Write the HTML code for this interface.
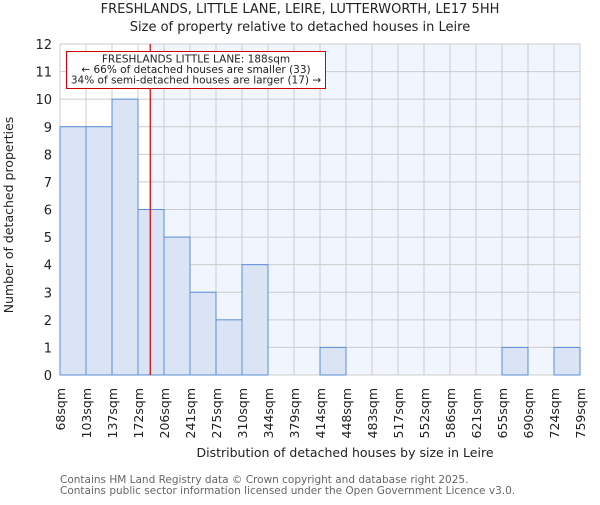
<!DOCTYPE html>
<html><head><meta charset="utf-8"><style>
body{margin:0;background:#fff}
svg text{font-family:"DejaVu Sans","Liberation Sans",sans-serif;fill:#222}
</style></head><body>
<svg id="c" width="600" height="500" xmlns="http://www.w3.org/2000/svg">
<text x="300" y="13" font-size="13" text-anchor="middle">FRESHLANDS, LITTLE LANE, LEIRE, LUTTERWORTH, LE17 5HH</text>
<text x="300" y="31" font-size="13" text-anchor="middle">Size of property relative to detached houses in Leire</text>
<g id="plot"></g>
<text x="345" y="457" font-size="12.5" text-anchor="middle">Distribution of detached houses by size in Leire</text>
<text transform="translate(13,215) rotate(-90)" font-size="12.5" text-anchor="middle">Number of detached properties</text>
<text x="60" y="483" font-size="10.5" style="fill:#666">Contains HM Land Registry data © Crown copyright and database right 2025.</text>
<text x="60" y="494" font-size="10.5" style="fill:#666">Contains public sector information licensed under the Open Government Licence v3.0.</text>
</svg>
<script>
const edges=["68sqm","103sqm","137sqm","172sqm","206sqm","241sqm","275sqm","310sqm","344sqm","379sqm","414sqm","448sqm","483sqm","517sqm","552sqm","586sqm","621sqm","655sqm","690sqm","724sqm","759sqm"];
const edgeVals=[68,103,137,172,206,241,275,310,344,379,414,448,483,517,552,586,621,655,690,724,759];
const counts=[9,9,10,6,5,3,2,4,0,0,1,0,0,0,0,0,0,1,0,1];
const yTicks=[0,1,2,3,4,5,6,7,8,9,10,11,12];
const subjectSize=188;
const NS="http://www.w3.org/2000/svg";
const L=60,R=580,T=44,B=375,yMax=12;
const bw=(R-L)/counts.length;
const xi=i=>L+i*bw;
const xv=v=>{for(let i=0;i<edgeVals.length-1;i++){if(v<=edgeVals[i+1])return xi(i)+bw*(v-edgeVals[i])/(edgeVals[i+1]-edgeVals[i]);}return R;};
const y=v=>B-(B-T)*v/yMax;
const g=document.getElementById('plot');
function mk(t,a){const e=document.createElementNS(NS,t);for(const k in a)e.setAttribute(k,a[k]);g.appendChild(e);return e;}
const sx=xv(subjectSize);
let e=mk('rect',{x:L,y:T,width:sx-L,height:B-T,fill:'#ffffff'});


e=mk('rect',{x:sx,y:T,width:R-sx,height:B-T,fill:'#f1f5fd'});


yTicks.forEach(t=>{
 const l=mk('line',{x1:L,x2:R,y1:y(t),y2:y(t),stroke:'#cccccc','stroke-width':1});
 
 
 const tx=mk('text',{x:L-8,y:y(t)+5,'font-size':13,'text-anchor':'end'});tx.textContent=t;
 
 
});
edges.forEach((s,i)=>{
 const l=mk('line',{x1:xi(i),x2:xi(i),y1:T,y2:B,stroke:'#cccccc','stroke-width':1});
 
 
 const tx=mk('text',{transform:`translate(${xi(i)+5},388) rotate(-90)`,'font-size':12.5,'text-anchor':'end'});tx.textContent=s;
 
 
});
counts.forEach((c,i)=>{
 if(c<=0)return;
 const r=mk('rect',{x:xi(i),y:y(c),width:bw,height:B-y(c),fill:'#dae4f4',stroke:'#5b8fd6','stroke-width':1});
 
 
});
e=mk('line',{x1:sx,x2:sx,y1:T,y2:B,stroke:'#cc0000','stroke-width':1.2});


e=mk('rect',{x:66.5,y:51.5,width:259,height:37,fill:'#fff',stroke:'#cc0000','stroke-width':1});


["FRESHLANDS LITTLE LANE: 188sqm","← 66% of detached houses are smaller (33)","34% of semi-detached houses are larger (17) →"].forEach((s,i)=>{
 const tx=mk('text',{x:196,y:62.5+i*10.5,'font-size':10.5,'text-anchor':'middle'});tx.textContent=s;
 
 
});
</script>
</body></html>
